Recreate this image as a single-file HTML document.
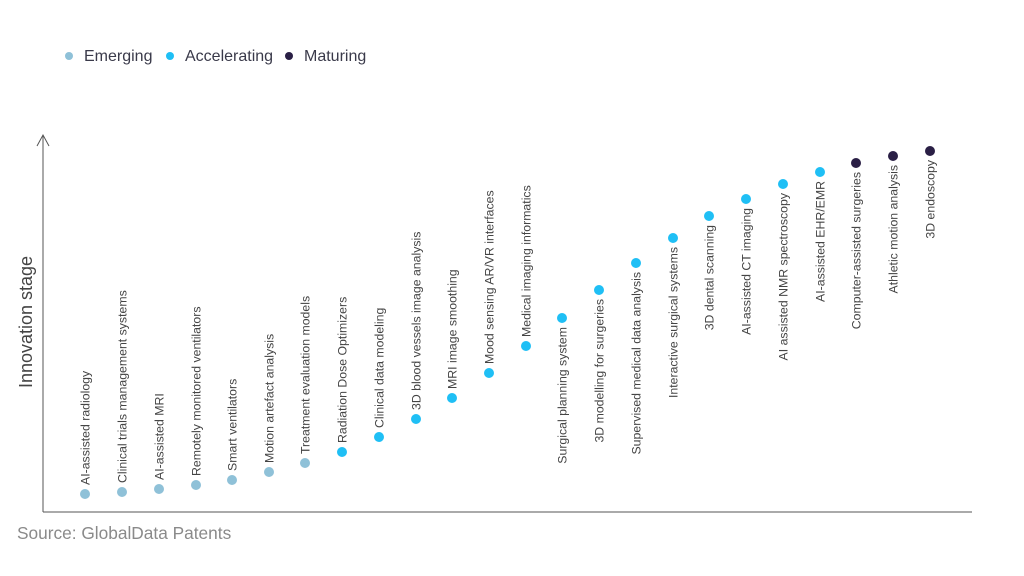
<!DOCTYPE html>
<html><head><meta charset="utf-8"><style>
html,body{margin:0;padding:0;background:#fff;}
svg{display:block;font-family:"Liberation Sans",Arial,sans-serif;}
</style></head><body>
<svg width="1024" height="576" viewBox="0 0 1024 576">
<g font-size="16" fill="#3a3a4a">
<circle cx="69" cy="56" r="4" fill="#8fc1d8"/><text x="84" y="61">Emerging</text>
<circle cx="170" cy="56" r="4" fill="#1fbff5"/><text x="185" y="61">Accelerating</text>
<circle cx="289" cy="56" r="4" fill="#2a1f45"/><text x="304" y="61">Maturing</text>
</g>
<g stroke="#555" stroke-width="1" fill="none">
<line x1="43" y1="135" x2="43" y2="512"/>
<line x1="43" y1="512" x2="972" y2="512"/>
<polyline points="37,146 43,135 49,146"/>
</g>
<text transform="translate(32,322) rotate(-90)" text-anchor="middle" font-size="18" fill="#444">Innovation stage</text>
<text x="17" y="539" font-size="17.3" fill="#8a8a8a">Source: GlobalData Patents</text>
<g id="pts" font-size="12.3" fill="#444"></g>
</svg>
<script>
var d=[["AI-assisted radiology",85,494,0],["Clinical trials management systems",122,492,0],["AI-assisted MRI",159,489,0],["Remotely monitored ventilators",196,485,0],["Smart ventilators",232,480,0],["Motion artefact analysis",269,472,0],["Treatment evaluation models",305,463,0],["Radiation Dose Optimizers",342,452,1],["Clinical data modeling",379,437,1],["3D blood vessels image analysis",416,419,1],["MRI image smoothing",452,398,1],["Mood sensing AR/VR interfaces",489,373,1],["Medical imaging informatics",526,346,1],["Surgical planning system",562,318,1],["3D modelling for surgeries",599,290,1],["Supervised medical data analysis",636,263,1],["Interactive surgical systems",673,238,1],["3D dental scanning",709,216,1],["AI-assisted CT imaging",746,199,1],["AI assisted NMR spectroscopy",783,184,1],["AI-assisted EHR/EMR",820,172,1],["Computer-assisted surgeries",856,163,2],["Athletic motion analysis",893,156,2],["3D endoscopy",930,151,2]];
var c=["#8fc1d8","#1fbff5","#2a1f45"],g=document.getElementById("pts"),h="";
d.forEach(function(p,i){
h+='<circle cx="'+p[1]+'" cy="'+p[2]+'" r="5" fill="'+c[p[3]]+'"/>';
if(i<13)h+='<text transform="translate('+(p[1]+4.5)+','+(p[2]-9)+') rotate(-90)">'+p[0]+'</text>';
else h+='<text text-anchor="end" transform="translate('+(p[1]+4.5)+','+(p[2]+9)+') rotate(-90)">'+p[0]+'</text>';
});
g.innerHTML=h;
</script>
</body></html>
